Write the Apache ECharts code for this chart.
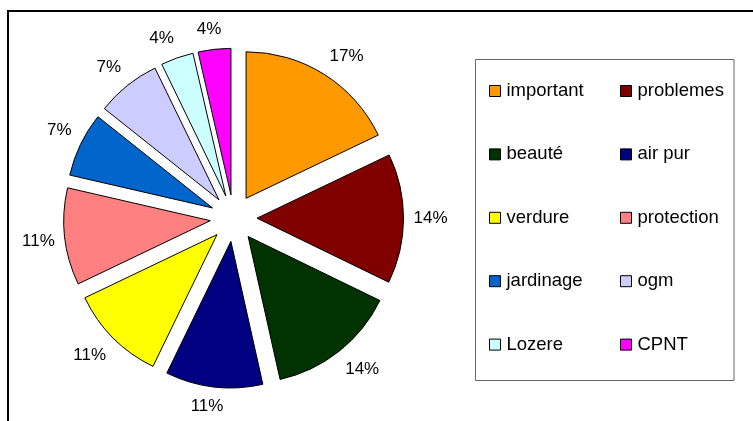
<!DOCTYPE html>
<html>
<head>
<meta charset="utf-8">
<script src="https://cdn.jsdelivr.net/npm/echarts@6/dist/echarts.min.js"></script>
<style>
  html, body { margin: 0; padding: 0; background: #fff; }
  #chart { width: 753px; height: 421px; }
</style>
</head>
<body>
<div id="chart"></div>
<script>
// Slice names, slice sizes and the printed labels
const categories = ['important', 'problemes', 'beauté', 'air pur', 'verdure', 'protection', 'jardinage', 'ogm', 'Lozere', 'CPNT'];
const values = [17.9, 14.3, 14.3, 10.7, 10.7, 10.7, 7.1, 7.1, 3.6, 3.6];
const pctLabels = ['17%', '14%', '14%', '11%', '11%', '11%', '7%', '7%', '4%', '4%'];
const colors = ['#FF9900', '#800000', '#003300', '#000080', '#FFFF00', '#FF8080', '#0066CC', '#CCCCFF', '#CCFFFF', '#FF00FF'];

const FONT = "'Liberation Sans', Arial, sans-serif";
const leftCol = categories.filter((c, i) => i % 2 === 0);
const rightCol = categories.filter((c, i) => i % 2 === 1);

// mid-angle of each slice (clockwise from 12 o'clock), used to push each label
// box outward the way the spreadsheet does (box corner touches the ray)
const total = values.reduce((a, b) => a + b, 0);
const midAngles = [];
values.reduce((acc, v) => { midAngles.push((acc + v / 2) / total * 2 * Math.PI); return acc + v; }, 0);
const clamp = (v) => Math.max(-1, Math.min(1, v));

function legendCfg(names, left) {
  return {
    data: names,
    orient: 'vertical',
    left: left,
    top: 81,
    padding: 0,
    itemWidth: 11,
    itemHeight: 11,
    itemGap: 43.4,
    icon: 'rect',
    selectedMode: false,
    itemStyle: { borderColor: '#000', borderWidth: 1 },
    textStyle: { fontFamily: FONT, fontSize: 18.5, color: '#000', lineHeight: 20, padding: [0, 0, 0, 1] }
  };
}

const chart = echarts.init(document.getElementById('chart'), null, { renderer: 'canvas' });
chart.setOption({
  animation: false,
  backgroundColor: '#fff',
  color: colors,
  graphic: [
    { type: 'rect', silent: true, z: 0, shape: { x: 8, y: 11, width: 1000, height: 1000 }, style: { fill: 'none', stroke: '#000', lineWidth: 2 } },
    { type: 'rect', silent: true, z: 0, shape: { x: 475.5, y: 59.5, width: 258.5, height: 321 }, style: { fill: 'none', stroke: '#666', lineWidth: 1 } }
  ],
  legend: [legendCfg(leftCol, 489), legendCfg(rightCol, 620)],
  series: [{
    type: 'pie',
    center: [233.6, 218.1],
    radius: 146.5,
    startAngle: 90,
    clockwise: true,
    avoidLabelOverlap: false,
    selectedMode: 'multiple',
    selectedOffset: 23.4,
    emphasis: { scale: false },
    itemStyle: { borderColor: '#000', borderWidth: 1 },
    select: { itemStyle: { borderColor: '#000', borderWidth: 1 } },
    label: {
      show: true,
      position: 'outside',
      formatter: (p) => pctLabels[p.dataIndex],
      fontFamily: FONT,
      fontSize: 17,
      color: '#000',
      distanceToLabelLine: 0
    },
    labelLine: { show: false, length: 10, length2: 0 },
    labelLayout: function (params) {
      const a = midAngles[params.dataIndex];
      const sx = clamp(Math.sin(a) * 3);
      const sy = clamp(-Math.cos(a) * 3);
      const w = params.labelRect.width;
      return { align: 'center', verticalAlign: 'middle', dx: sx * w / 2, dy: sy * 10 };
    },
    data: categories.map((name, i) => ({ name: name, value: values[i], selected: true }))
  }]
});
</script>
</body>
</html>
